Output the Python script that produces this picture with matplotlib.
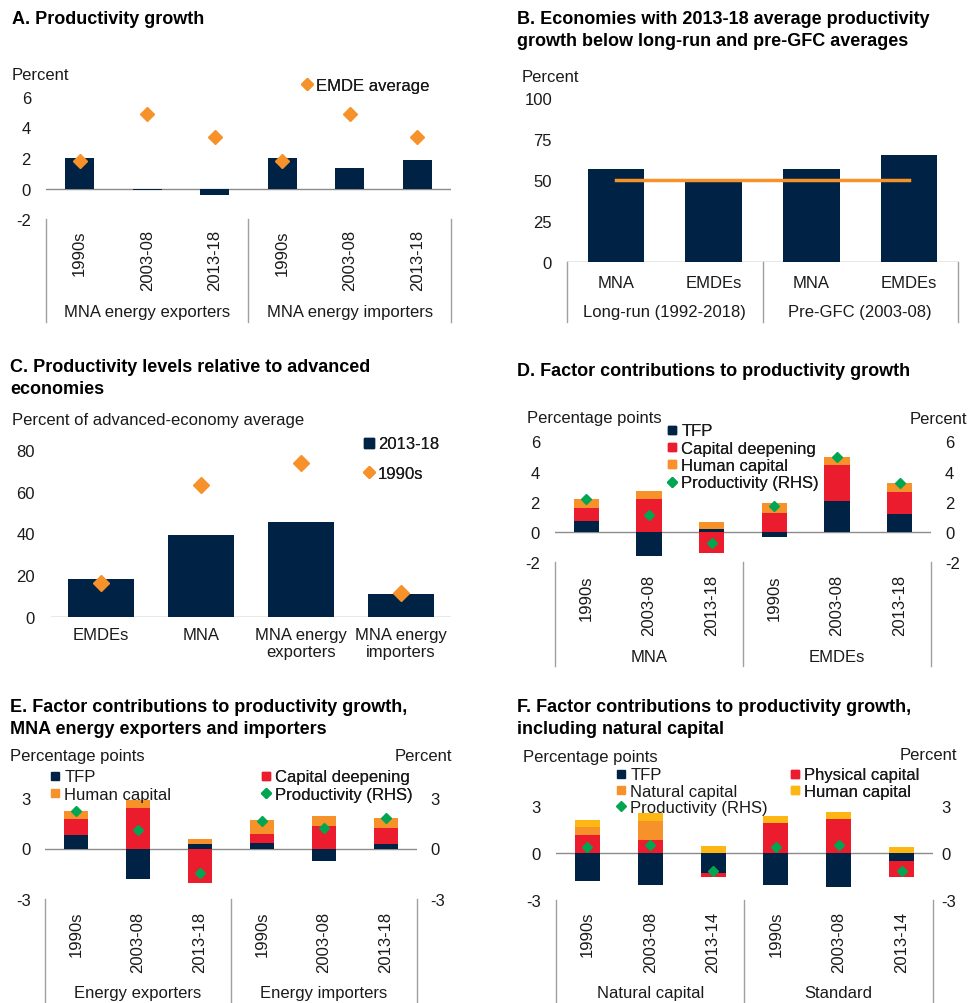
import numpy as np
import matplotlib
matplotlib.use("Agg")
import matplotlib.pyplot as plt
from matplotlib.lines import Line2D

plt.rcParams['font.family'] = ['Liberation Sans', 'DejaVu Sans']
plt.rcParams['font.size'] = 12
plt.rcParams['axes.unicode_minus'] = False

NAVY = '#002345'
RED = '#EB1C2D'
ORANGE = '#F7922A'
GREEN = '#00A651'
YELLOW = '#FDB714'
GRID = '#8c8c8c'
TXT = '#1a1a1a'

# ---- data ----
periods = ['1990s', '2003-08', '2013-18']
periods_f = ['1990s', '2003-08', '2013-14']

A_groups = ['MNA energy exporters', 'MNA energy importers']
A_growth = [2.0, -0.1, -0.45, 2.0, 1.35, 1.9]
A_emde = [1.8, 4.9, 3.4, 1.8, 4.9, 3.4]

B_cats = ['MNA', 'EMDEs', 'MNA', 'EMDEs']
B_groups = ['Long-run (1992-2018)', 'Pre-GFC (2003-08)']
B_share = [57, 49, 57, 65]
B_half = [50, 50, 50, 50]

C_cats = ['EMDEs', 'MNA', 'MNA energy\nexporters', 'MNA energy\nimporters']
C_recent = [18.3, 39.2, 45.3, 10.8]
C_1990s = [16.2, 63.0, 74.0, 11.2]

D_groups = ['MNA', 'EMDEs']
D_tfp = [0.71, -1.6, 0.22, -0.31, 2.02, 1.2]
D_cap = [0.91, 2.18, -1.4, 1.27, 2.4, 1.47]
D_hum = [0.54, 0.51, 0.45, 0.66, 0.54, 0.6]
D_prod = [2.18, 1.16, -0.71, 1.69, 4.96, 3.27]

E_groups = ['Energy exporters', 'Energy importers']
E_tfp = [0.78, -1.8, 0.24, 0.33, -0.73, 0.27]
E_cap = [1.0, 2.39, -2.02, 0.53, 1.33, 0.96]
E_hum = [0.46, 0.49, 0.33, 0.81, 0.61, 0.6]
E_prod = [2.24, 1.1, -1.43, 1.65, 1.2, 1.84]

F_groups = ['Natural capital', 'Standard']
F_tfp = [-1.8, -2.09, -1.29, -2.07, -2.22, -0.51]
F_phys = [1.16, 0.82, -0.27, 1.88, 2.18, -1.01]
F_nat = [0.45, 1.23, 0.0, 0.0, 0.0, 0.0]
F_hum = [0.48, 0.47, 0.42, 0.49, 0.44, 0.38]
F_prod = [0.34, 0.47, -1.14, 0.34, 0.47, -1.14]

W, H = 970, 1004
fig = plt.figure(figsize=(W / 100, H / 100), dpi=100)


def px_axes(x0, x1, y0, y1):
    return fig.add_axes([x0 / W, 1 - y1 / H, (x1 - x0) / W, (y1 - y0) / H])


def ftext(x, y, s, **kw):
    kw.setdefault('color', TXT)
    fig.text(x / W, 1 - y / H, s, **kw)


def title(x, y, lines):
    for i, line in enumerate(lines):
        ftext(x, y + 22 * i, line, fontsize=13, fontweight='bold', va='center', color='black')


def style(ax, n, ylim, ticks, pad=15, right=False):
    ax.set_xlim(-0.5, n - 0.5)
    ax.set_ylim(*ylim)
    ax.set_yticks(ticks)
    ax.set_xticks([])
    for s in ax.spines.values():
        s.set_visible(False)
    ax.tick_params(axis='y', length=0, pad=pad * 0.72, labelsize=12, labelcolor=TXT,
                   left=not right, labelleft=not right, right=right, labelright=right)
    ax.patch.set_alpha(0)


def below(ax, h, cats, groups, cat_off, grp_off, sep_len, rotate=True):
    for i, c in enumerate(cats):
        ax.annotate(c, xy=(i, 0), xycoords=('data', 'axes fraction'),
                    xytext=(0, -cat_off * 0.72), textcoords='offset points',
                    rotation=90 if rotate else 0, ha='center',
                    va='top' if rotate else 'center', fontsize=12, color=TXT)
    if groups:
        size = len(cats) // len(groups)
        for g, name in enumerate(groups):
            ax.annotate(name, xy=(g * size + (size - 1) / 2, 0),
                        xycoords=('data', 'axes fraction'),
                        xytext=(0, -grp_off * 0.72), textcoords='offset points',
                        ha='center', va='center', fontsize=12, color=TXT)
        for g in range(len(groups) + 1):
            xs = g * size - 0.5
            ax.plot([xs, xs], [0, -sep_len / h], transform=ax.get_xaxis_transform(),
                    clip_on=False, color='#a0a0a0', lw=1)


def legend(ax, handles, labels, x, y, spacing):
    lg = ax.legend(handles, labels, loc='upper left',
                   bbox_to_anchor=((x - 5) / W, 1 - (y - 4.5) / H),
                   bbox_transform=fig.transFigure, frameon=False, fontsize=12,
                   borderpad=0, borderaxespad=0, handlelength=0.6,
                   handletextpad=0.25, labelspacing=(spacing - 15.7) / 16.7)
    for t in lg.get_texts():
        t.set_color(TXT)
    ax.add_artist(lg)


def sq(c, ms=5.5):
    return Line2D([], [], marker='s', ls='none', color=c, markersize=ms)


def dm(c, ms=6.5):
    return Line2D([], [], marker='D', ls='none', color=c, markersize=ms)


def stack(ax, series, colors, width):
    x = np.arange(len(series[0]))
    pos = np.zeros(len(x))
    neg = np.zeros(len(x))
    for vals, c in zip(series, colors):
        v = np.array(vals, dtype=float)
        ax.bar(x, v, width, bottom=np.where(v >= 0, pos, neg), color=c, zorder=2)
        pos += np.clip(v, 0, None)
        neg += np.clip(v, None, 0)


# ---- A ----
title(12, 20, ['A. Productivity growth'])
ax = px_axes(46, 451, 98, 220)
style(ax, 6, (-2, 6), [-2, 0, 2, 4, 6])
x = np.arange(6)
ax.axhline(0, color=GRID, lw=1, zorder=1)
ax.bar(x, A_growth, 0.43, color=NAVY, zorder=2)
ax.plot(x, A_emde, 'D', color=ORANGE, markersize=7, ls='none', zorder=3)
below(ax, 122, periods * 2, A_groups, 10, 93, 103)
ftext(12, 75, 'Percent', va='center')
legend(ax, [dm(ORANGE)], ['EMDE average'], 307, 83, 18)

# ---- B ----
title(517, 20, ['B. Economies with 2013-18 average productivity',
                'growth below long-run and pre-GFC averages'])
ax = px_axes(567, 958, 99, 263)
style(ax, 4, (0, 100), [0, 25, 50, 75, 100])
x = np.arange(4)
ax.axhline(0, color=GRID, lw=1, zorder=1)
ax.bar(x, B_share, 0.58, color=NAVY, zorder=2)
ax.plot(x, B_half, color=ORANGE, lw=2.5, zorder=3)
below(ax, 164, B_cats, B_groups, 20, 50, 60, rotate=False)
ftext(522, 77, 'Percent', va='center')

# ---- C ----
title(10, 368, ['C. Productivity levels relative to advanced', 'economies'])
ax = px_axes(51, 451, 451, 617.7)
style(ax, 4, (0, 80), [0, 20, 40, 60, 80], pad=16)
x = np.arange(4)
ax.axhline(0, color=GRID, lw=1, zorder=1)
ax.bar(x, C_recent, 0.667, color=NAVY, zorder=2)
ax.plot(x, C_1990s, 'D', color=ORANGE, markersize=8, ls='none', zorder=3)
below(ax, 166.7, C_cats, None, 10, 0, 0, rotate=True)
for t in ax.texts:
    t.set_rotation(0)
ftext(12, 420, 'Percent of advanced-economy average', va='center')
legend(ax, [sq(NAVY, 6.5), dm(ORANGE)], ['2013-18', '1990s'], 369, 442, 30)

# ---- D ----
title(517, 371, ['D. Factor contributions to productivity growth'])
ax = px_axes(555, 931, 442.3, 563.3)
style(ax, 6, (-2, 6), [-2, 0, 2, 4, 6])
ax.axhline(0, color=GRID, lw=1, zorder=1)
stack(ax, [D_tfp, D_cap, D_hum], [NAVY, RED, ORANGE], 0.4)
ax2 = ax.twinx()
style(ax2, 6, (-2, 6), [-2, 0, 2, 4, 6], pad=14, right=True)
ax2.plot(np.arange(6), D_prod, 'D', color=GREEN, markersize=5.5, ls='none', zorder=3)
below(ax, 121, periods * 2, D_groups, 12, 94, 104)
ftext(527, 419, 'Percentage points', va='center')
ftext(967, 419, 'Percent', va='center', ha='right')
legend(ax2, [sq(NAVY), sq(RED), sq(ORANGE), dm(GREEN, 5.5)],
       ['TFP', 'Capital deepening', 'Human capital', 'Productivity (RHS)'], 672, 429, 18)

# ---- E ----
title(10, 708, ['E. Factor contributions to productivity growth,',
                'MNA energy exporters and importers'])
ax = px_axes(45, 417, 799, 900)
style(ax, 6, (-3, 3), [-3, 0, 3], pad=14)
ax.axhline(0, color=GRID, lw=1, zorder=1)
stack(ax, [E_tfp, E_cap, E_hum], [NAVY, RED, ORANGE], 0.39)
ax2 = ax.twinx()
style(ax2, 6, (-3, 3), [-3, 0, 3], pad=13, right=True)
ax2.plot(np.arange(6), E_prod, 'D', color=GREEN, markersize=5.5, ls='none', zorder=3)
below(ax, 101, periods * 2, E_groups, 12, 94, 104)
ftext(10, 757, 'Percentage points', va='center')
ftext(452, 757, 'Percent', va='center', ha='right')
legend(ax2, [sq(NAVY), sq(ORANGE)], ['TFP', 'Human capital'], 55, 775, 18)
legend(ax2, [sq(RED), dm(GREEN, 5.5)], ['Capital deepening', 'Productivity (RHS)'], 266, 775, 18)

# ---- F ----
title(517, 708, ['F. Factor contributions to productivity growth,',
                 'including natural capital'])
ax = px_axes(556, 933, 806.7, 900.7)
style(ax, 6, (-3, 3), [-3, 0, 3], pad=15)
ax.axhline(0, color=GRID, lw=1, zorder=1)
stack(ax, [F_tfp, F_phys, F_nat, F_hum], [NAVY, RED, ORANGE, YELLOW], 0.4)
ax2 = ax.twinx()
style(ax2, 6, (-3, 3), [-3, 0, 3], pad=8, right=True)
ax2.plot(np.arange(6), F_prod, 'D', color=GREEN, markersize=5.5, ls='none', zorder=3)
below(ax, 94, periods_f * 2, F_groups, 11, 93, 103)
ftext(523, 758, 'Percentage points', va='center')
ftext(957, 756, 'Percent', va='center', ha='right')
legend(ax2, [sq(NAVY), sq(ORANGE), dm(GREEN, 5.5)],
       ['TFP', 'Natural capital', 'Productivity (RHS)'], 621, 773, 17)
legend(ax2, [sq(RED), sq(YELLOW)], ['Physical capital', 'Human capital'], 795, 773, 17)

fig.savefig('out.png', dpi=100, facecolor='white')
